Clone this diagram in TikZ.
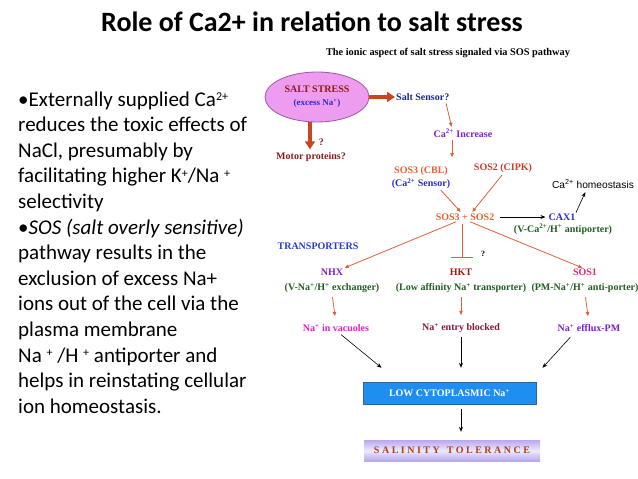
\documentclass[tikz,border=0pt]{standalone}
\usepackage{fontspec}
\setmainfont{Liberation Serif}
\newfontfamily\calib{Carlito}
\newfontfamily\sansfam{Liberation Sans}
\newfontfamily\spaced[LetterSpace=25]{Liberation Serif}
\usetikzlibrary{shapes.geometric,arrows.meta}
\newcommand{\supr}[1]{\raisebox{0.55ex}{\fontsize{12}{12}\selectfont #1}}
\definecolor{arrowred}{HTML}{C8461E}
\definecolor{thinred}{HTML}{E0603C}
\definecolor{sosorange}{HTML}{E8602C}
\definecolor{sosred}{HTML}{D83828}
\definecolor{darkred}{HTML}{8C1A1A}
\definecolor{navy}{HTML}{1C2A8C}
\definecolor{dblue}{HTML}{2A2ACF}
\definecolor{tblue}{HTML}{2A3AC8}
\definecolor{cpurple}{HTML}{7B22C8}
\definecolor{dgreen}{HTML}{1F5F1F}
\definecolor{cmagenta}{HTML}{E020C8}
\definecolor{sospink}{HTML}{E0287A}
\definecolor{hktred}{HTML}{A01818}
\definecolor{entryred}{HTML}{8A1838}
\definecolor{effpurple}{HTML}{7A20C8}
\definecolor{lowblue}{HTML}{1E8EF0}
\definecolor{lowborder}{HTML}{2466A8}
\definecolor{lavender}{HTML}{B8A8F0}
\definecolor{tolred}{HTML}{B0401A}
\definecolor{ellfill}{HTML}{EE9CF0}
\definecolor{ellborder}{HTML}{9A58A8}

\begin{document}
\begin{tikzpicture}[x=1pt,y=-1pt]
\tikzset{lbl/.style={font=\bfseries\fontsize{10}{12}\selectfont, inner sep=0pt, align=center},
  fat/.style={draw=arrowred, line width=3.5pt, -{Triangle[length=8pt,width=10pt]}},
  thin/.style={draw=thinred, line width=0.8pt, -{Triangle[length=4pt,width=3.5pt]}},
  blk/.style={draw=black, line width=0.6pt, -{Stealth[length=5pt,width=4pt]}}}
\useasboundingbox (0,0) rectangle (638,479);

\node[font=\calib\bfseries\fontsize{28}{32}\selectfont] (title) at (312,22) {Role of Ca2+ in relation to salt stress};
\node[lbl, font=\bfseries\fontsize{10.3}{12}\selectfont] (sub) at (448,53) {The ionic aspect of salt stress signaled via SOS pathway};

\foreach \t [count=\i] in {{•Externally supplied Ca\supr{2+}},
  {reduces the toxic effects of}, {NaCl, presumably by},
  {facilitating higher K\supr{+}/Na \supr{+}}, {selectivity},
  {•\textit{SOS (salt overly sensitive)}}, {pathway results in the},
  {exclusion of excess Na+}, {ions out of the cell via the},
  {plasma membrane}, {Na \supr{+} /H \supr{+} antiporter and},
  {helps in reinstating cellular}, {ion homeostasis.}}
  \node[anchor=base west, inner sep=0pt, font=\calib\fontsize{21}{25}\selectfont] (line_\i) at (18,{106+25.6*(\i-1)}) {\t};

\node[ellipse, draw=ellborder, fill=ellfill, line width=0.8pt, minimum width=104pt, minimum height=50pt, lbl] (stress) at (317,97)
  {\textcolor{darkred}{SALT STRESS}\\[1pt]\textcolor{dblue}{\fontsize{9}{11}\selectfont(excess Na\textsuperscript{+})}};
\node[lbl, text=navy, anchor=west] (sensor) at (396,97) {Salt Sensor?};
\node[lbl, text=darkred] (motor) at (311,157) {Motor proteins?};
\node[lbl, text=cpurple] (ca) at (463,133) {Ca\textsuperscript{2+} Increase};
\coordinate (caend) at (452,157);
\node[lbl] (sos3) at (421,178) {\textcolor{sosorange}{SOS3 (CBL)}\\[1pt]\textcolor{dblue}{(Ca\textsuperscript{2+} Sensor)}};
\node[lbl, text=sosred] (sos2) at (503,168) {SOS2 (CIPK)};
\node[lbl, text=sosorange] (sum) at (465,217) {SOS3 + SOS2};
\node[lbl, text=dblue] (cax) at (562,217) {CAX1};
\node[lbl, text=dgreen] (caxsub) at (563,229) {(V-Ca\textsuperscript{2+}/H\textsuperscript{+} antiporter)};
\node[inner sep=0pt, font=\sansfam\fontsize{10.2}{12}\selectfont] (homeo) at (593,184) {Ca\textsuperscript{2+} homeostasis};
\node[lbl, text=tblue] (trans) at (318,246) {TRANSPORTERS};
\node[lbl] (nhx) at (332,281) {\textcolor{cpurple}{NHX}\\[3pt]\textcolor{dgreen}{(V-Na\textsuperscript{+}/H\textsuperscript{+} exchanger)}};
\node[lbl] (hkt) at (461,281) {\textcolor{hktred}{HKT}\\[3pt]\textcolor{dgreen}{(Low affinity Na\textsuperscript{+} transporter)}};
\node[lbl] (sos1) at (585,281) {\textcolor{sospink}{SOS1}\\[3pt]\textcolor{dgreen}{(PM-Na\textsuperscript{+}/H\textsuperscript{+} anti-porter)}};
\node[lbl, text=cmagenta] (vac) at (336,328) {Na\textsuperscript{+} in vacuoles};
\node[lbl, text=entryred] (entry) at (461,328) {Na\textsuperscript{+} entry blocked};
\node[lbl, text=effpurple] (efflux) at (589,328) {Na\textsuperscript{+} efflux-PM};
\node[lbl, draw=lowborder, fill=lowblue, minimum width=173pt, minimum height=22pt, text=white] (low) at (449.5,393) {LOW CYTOPLASMIC Na\textsuperscript{+}};
\node[minimum width=176pt, minimum height=21pt, top color=lavender, bottom color=lavender, middle color=white!75!lavender,
  text=tolred, font=\spaced\bfseries\fontsize{10}{12}\selectfont] (tol) at (452,450.5) {SALINITY\hspace{7pt}TOLERANCE};

\draw[fat, shorten >=1pt] (stress.east) -- (sensor.west);
\draw[fat] ([xshift=-7pt]stress.south) -- node[pos=0.75, lbl, text=darkred, right=7pt] (q1) {?} ([xshift=-1pt,yshift=3pt]motor.north);
\draw[thin, shorten <=3pt, shorten >=2pt] ([xshift=-4pt]sensor.south east) -- ([xshift=-11pt]ca.north);
\draw[thin, shorten <=3pt] ([xshift=-11pt]ca.south) -- (caend);
\draw[thin, shorten <=1pt, shorten >=2pt] ([xshift=19pt]sos3.south) -- ([xshift=-3pt]sum.north);
\draw[thin, shorten <=3pt, shorten >=2pt] ([xshift=1pt]sos2.south) -- ([xshift=6pt]sum.north);
\draw[blk, shorten <=6pt, shorten >=3pt] (sum.east) -- (cax.west);
\draw[blk, shorten <=1pt, shorten >=4pt] (cax.north east) -- ([xshift=-6pt]homeo.south);
\draw[thin, shorten <=3pt, shorten >=3pt] ([xshift=-6pt]sum.south) -- ([xshift=10pt]nhx.north);
\draw[thin, shorten <=3pt, shorten >=3pt] ([xshift=2pt]sum.south) -- (sos1.north);
\coordinate (blk) at (462,258);
\draw[draw=thinred, line width=0.8pt, -{Bar[width=22pt]}, shorten <=3pt] ([xshift=-3pt]sum.south) -- (blk);
\node[lbl, font=\bfseries\fontsize{8}{9}\selectfont] (q2) at (483,254) {?};

\draw[thin, shorten <=4pt, shorten >=8pt] (nhx.south) -- (vac.north);
\draw[thin, shorten <=4pt, shorten >=8pt] (hkt.south) -- (entry.north);
\draw[thin, shorten <=4pt, shorten >=8pt] (sos1.south) -- (efflux.north);

\draw[blk, shorten <=4pt] ([xshift=2pt]vac.south) -- ([xshift=-68pt,yshift=14pt]low.north);
\draw[blk, shorten <=4pt] (entry.south) -- ([xshift=11.5pt,yshift=14pt]low.north);
\draw[blk, shorten <=7pt] ([xshift=-14pt]efflux.south) -- ([xshift=93pt,yshift=14pt]low.north);
\draw[blk, shorten <=5pt, shorten >=8pt] ([xshift=11.5pt]low.south) -- ([xshift=9pt]tol.north);
\end{tikzpicture}
\end{document}
